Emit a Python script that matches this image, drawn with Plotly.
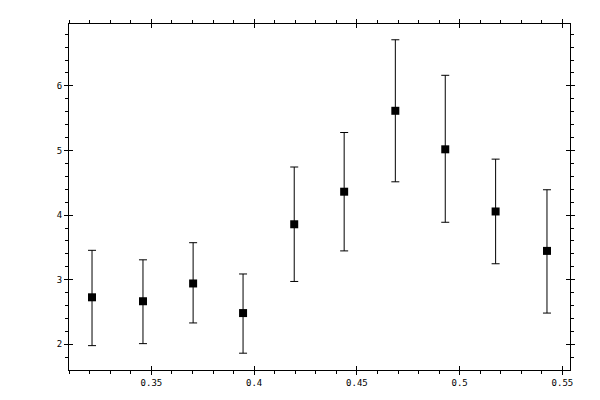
import plotly.graph_objects as go

# ── Data ──────────────────────────────────────────────────────────────────────
x_vals = [0.3211, 0.3459, 0.3703, 0.3946, 0.4195, 0.4438, 0.4687, 0.4930, 0.5175, 0.5425]
y_vals = [2.728, 2.667, 2.942, 2.484, 3.858, 4.362, 5.614, 5.018, 4.056, 3.446]
y_upper = [3.455, 3.308, 3.573, 3.089, 4.744, 5.278, 6.713, 6.163, 4.866, 4.392]
y_lower = [1.980, 2.011, 2.331, 1.863, 2.973, 3.446, 4.515, 3.889, 3.247, 2.484]

X_RANGE = [0.3099, 0.5537]
Y_RANGE = [1.603, 6.957]

err_plus = [u - y for u, y in zip(y_upper, y_vals)]
err_minus = [y - l for y, l in zip(y_vals, y_lower)]

FONT = dict(family="DejaVu Sans Mono", size=9, color="black")

# ── Figure ────────────────────────────────────────────────────────────────────
fig = go.Figure()

fig.add_trace(go.Scatter(
    x=x_vals, y=y_vals,
    mode="markers",
    marker=dict(symbol="square", size=8, color="black"),
    error_y=dict(type="data", symmetric=False, array=err_plus, arrayminus=err_minus,
                 color="black", thickness=1, width=4),
    showlegend=False,
))

# empty trace so the overlay axes (inward half of the crossing ticks) are drawn
fig.add_trace(go.Scatter(x=[], y=[], xaxis="x2", yaxis="y2", showlegend=False))

common = dict(showgrid=False, zeroline=False, color="black")

# page body has an 8px margin, so the figure is a bit smaller and margins shifted
fig.update_layout(
    width=592, height=392,
    margin=dict(l=61, r=30, t=11, b=30),
    plot_bgcolor="white", paper_bgcolor="white",
    font=FONT,
    xaxis=dict(
        range=X_RANGE, dtick=0.05, tick0=0, ticks="outside", ticklen=4, tickwidth=1,
        showline=True, linecolor="black", linewidth=1, mirror="ticks",
        minor=dict(ticks="outside", ticklen=3, dtick=0.01, tickcolor="black"),
        tickfont=FONT, **common,
    ),
    yaxis=dict(
        range=Y_RANGE, dtick=1, tick0=0, ticks="outside", ticklen=4, tickwidth=1,
        showline=True, linecolor="black", linewidth=1, mirror="ticks",
        minor=dict(ticks="outside", ticklen=3, dtick=0.2, tickcolor="black"),
        tickfont=FONT, **common,
    ),
    xaxis2=dict(
        range=X_RANGE, dtick=0.05, tick0=0, ticks="inside", ticklen=4, tickwidth=1,
        overlaying="x", anchor="y2", showticklabels=False, showline=False,
        mirror="ticks", **common,
    ),
    yaxis2=dict(
        range=Y_RANGE, dtick=1, tick0=0, ticks="inside", ticklen=4, tickwidth=1,
        overlaying="y", anchor="x2", showticklabels=False, showline=False,
        mirror="ticks", **common,
    ),
)

fig.write_html("out.html")
